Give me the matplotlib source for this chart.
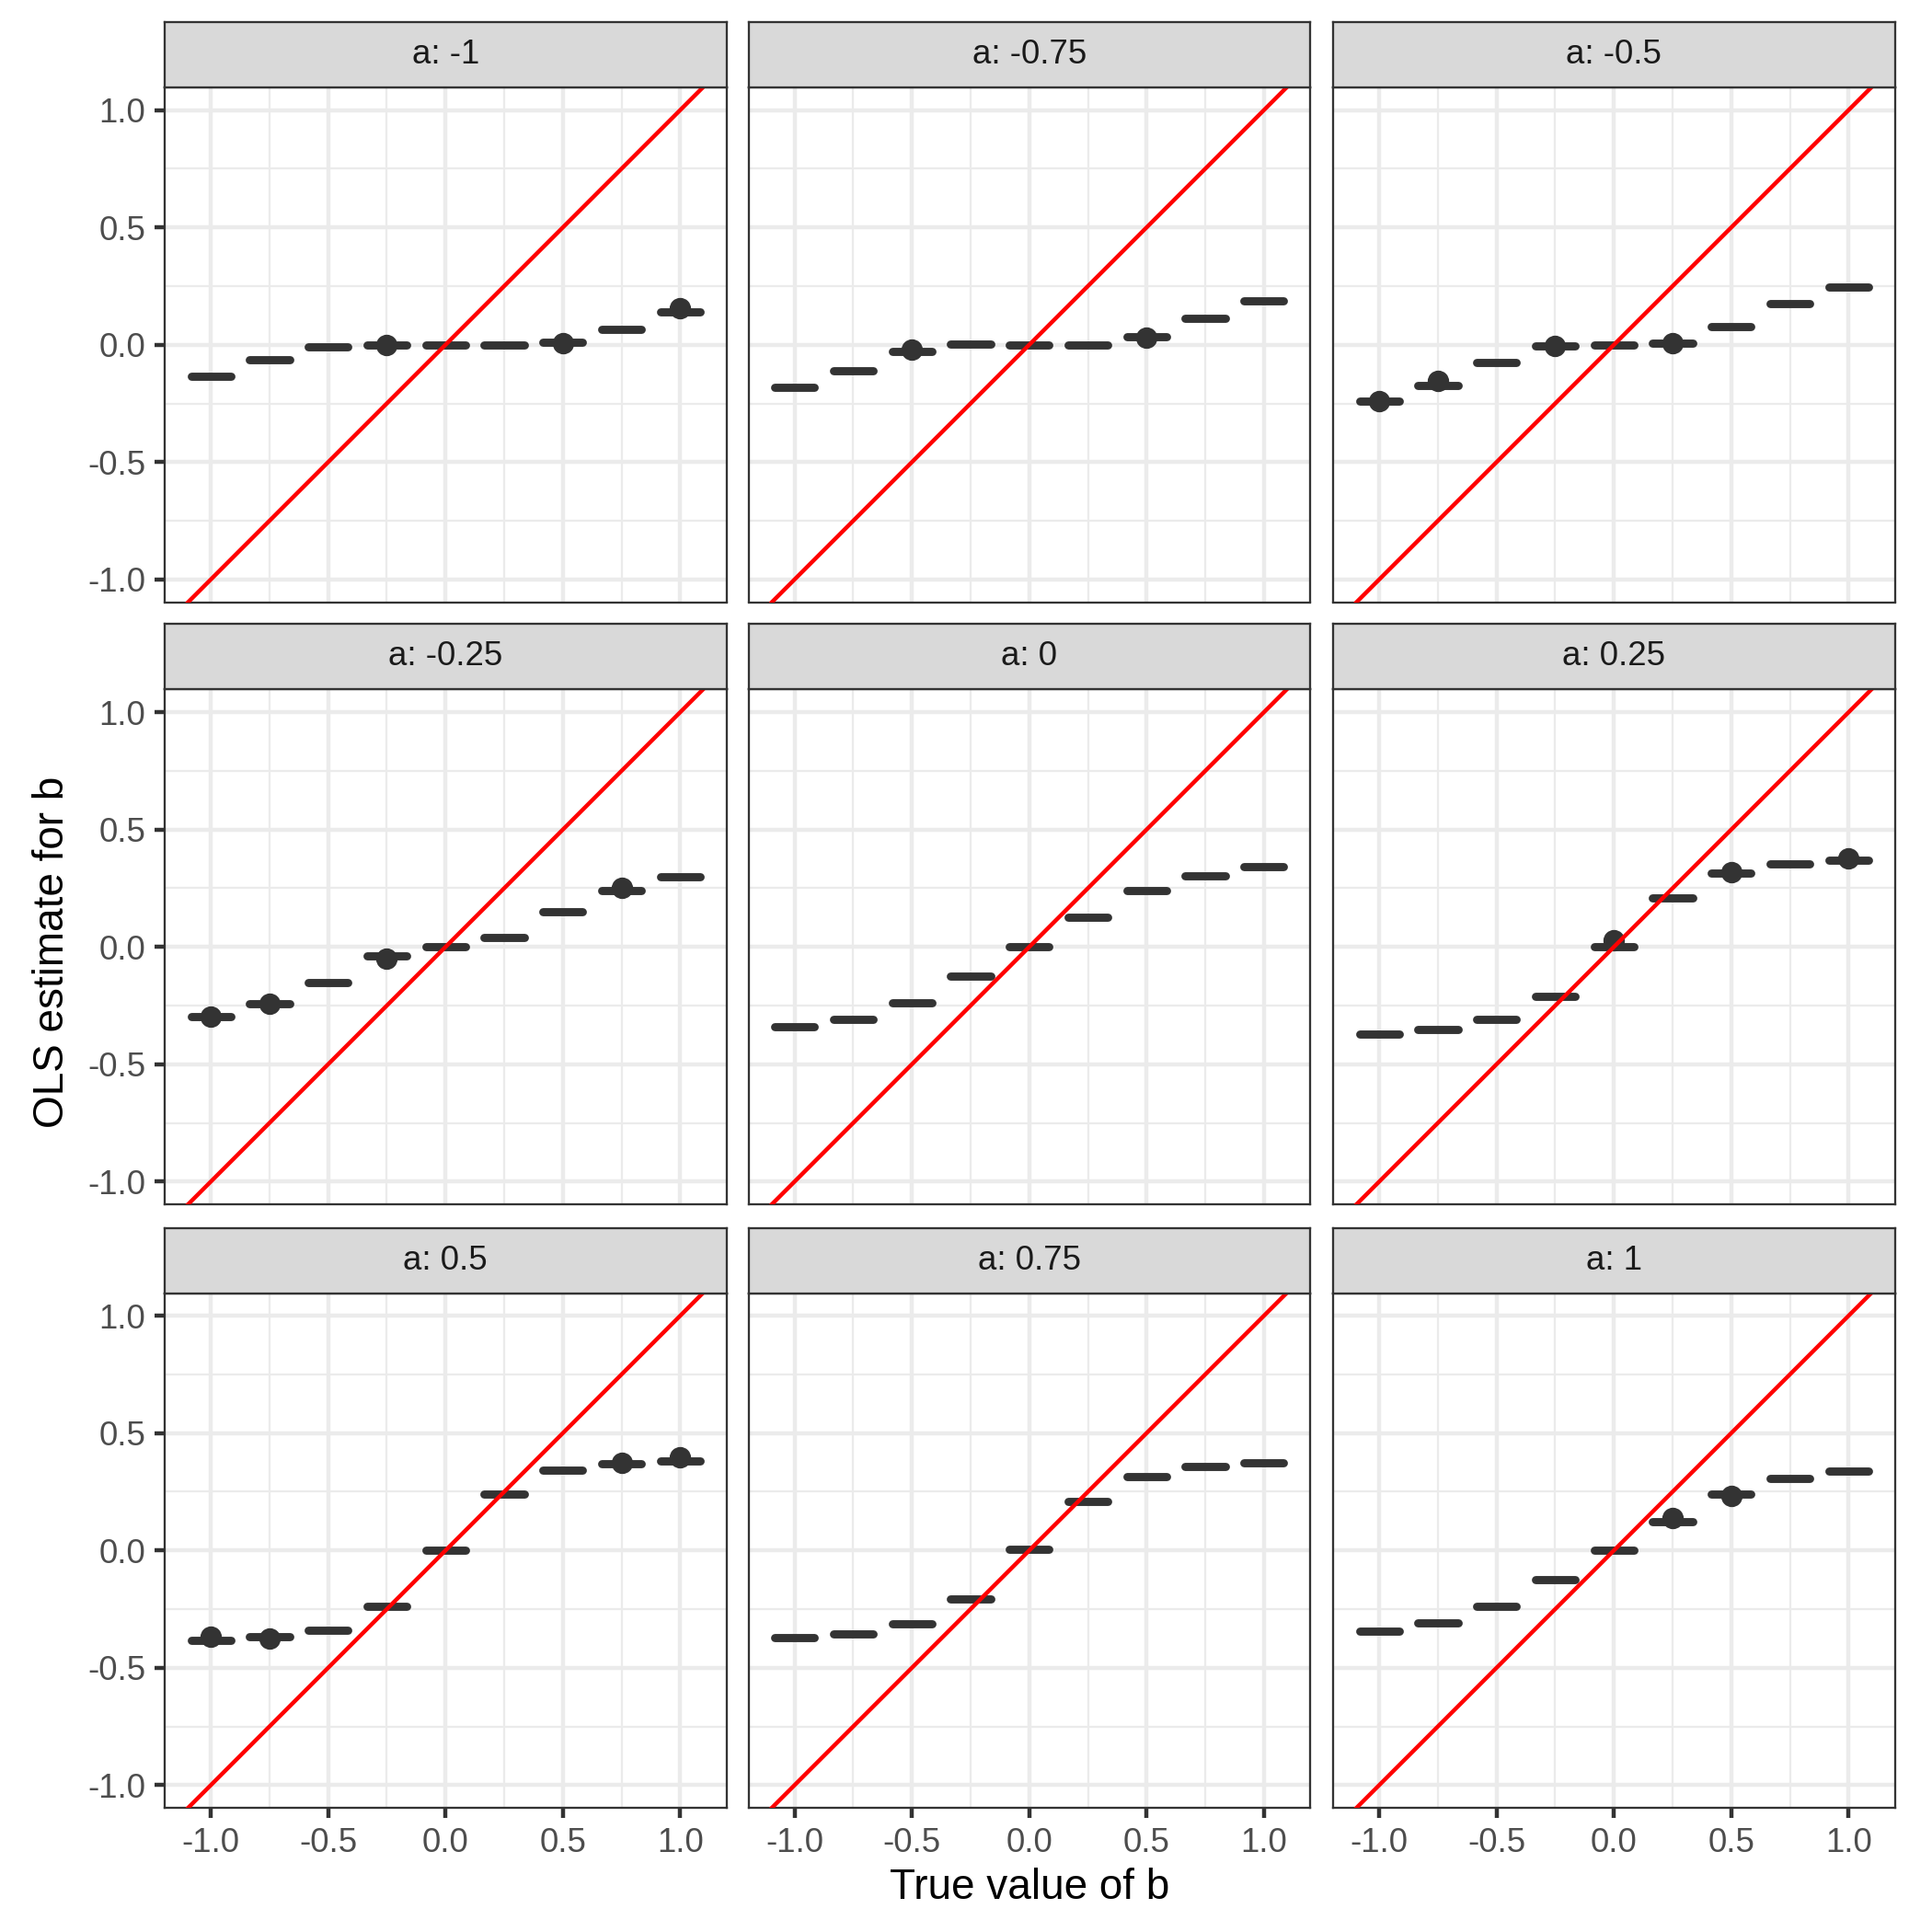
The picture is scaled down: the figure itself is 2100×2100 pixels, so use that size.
import numpy as np
import matplotlib.pyplot as plt

plt.rcParams['font.family'] = ['Liberation Sans', 'DejaVu Sans']

# true value of b (x positions of the boxes)
b_values = [-1.0, -0.75, -0.5, -0.25, 0.0, 0.25, 0.5, 0.75, 1.0]
facet_labels = ["a: -1", "a: -0.75", "a: -0.5", "a: -0.25", "a: 0",
                "a: 0.25", "a: 0.5", "a: 0.75", "a: 1"]

# median OLS estimate of b for each b, one list per facet
est_a_m1 = [-0.136, -0.064, -0.007, 0.000, 0.000, 0.000, 0.010, 0.064, 0.139]
est_a_m075 = [-0.181, -0.110, -0.029, 0.003, 0.000, 0.000, 0.035, 0.113, 0.186]
est_a_m05 = [-0.240, -0.173, -0.076, -0.004, 0.000, 0.007, 0.079, 0.176, 0.247]
est_a_m025 = [-0.296, -0.243, -0.150, -0.040, 0.000, 0.040, 0.151, 0.241, 0.299]
est_a_0 = [-0.339, -0.307, -0.237, -0.126, 0.000, 0.127, 0.241, 0.304, 0.343]
est_a_025 = [-0.371, -0.351, -0.310, -0.211, 0.000, 0.210, 0.313, 0.354, 0.371]
est_a_05 = [-0.383, -0.369, -0.339, -0.240, 0.000, 0.240, 0.343, 0.370, 0.383]
est_a_075 = [-0.371, -0.354, -0.314, -0.207, 0.004, 0.210, 0.314, 0.356, 0.374]
est_a_1 = [-0.343, -0.309, -0.239, -0.126, 0.000, 0.121, 0.239, 0.307, 0.340]

# outlier points (b, estimate) per facet
out_a_m1 = [(-0.25, 0.000), (0.5, 0.007), (1.0, 0.157)]
out_a_m075 = [(-0.5, -0.021), (0.5, 0.029)]
out_a_m05 = [(-1.0, -0.240), (-0.75, -0.153), (-0.25, -0.003), (0.25, 0.007)]
out_a_m025 = [(-1.0, -0.296), (-0.75, -0.243), (-0.25, -0.049), (0.75, 0.250)]
out_a_0 = []
out_a_025 = [(0.0, 0.027), (0.5, 0.319), (1.0, 0.377)]
out_a_05 = [(-1.0, -0.369), (-0.75, -0.376), (0.75, 0.373), (1.0, 0.397)]
out_a_075 = []
out_a_1 = [(0.25, 0.137), (0.5, 0.234)]

estimates = [est_a_m1, est_a_m075, est_a_m05, est_a_m025, est_a_0,
             est_a_025, est_a_05, est_a_075, est_a_1]
outliers = [out_a_m1, out_a_m075, out_a_m05, out_a_m025, out_a_0,
            out_a_025, out_a_05, out_a_075, out_a_1]

major = [-1.0, -0.5, 0.0, 0.5, 1.0]
major_labels = ["-1.0", "-0.5", "0.0", "0.5", "1.0"]
minor = [-0.75, -0.25, 0.25, 0.75]

dark = '#333333'
fig = plt.figure(figsize=(7, 7), dpi=300)

# panel grid in pixels of the 2100 px figure
col_left = [179 / 2100, 813.5 / 2100, 1449 / 2100]
col_w = 610.5 / 2100
row_bottom = [1 - 654.5 / 2100, 1 - 1309 / 2100, 1 - 1965 / 2100]
row_h = 559.5 / 2100
strip_h = 71 / 2100

for i in range(9):
    r, c = divmod(i, 3)
    ax = fig.add_axes([col_left[c], row_bottom[r], col_w, row_h])

    stats = []
    for b, m in zip(b_values, estimates[i]):
        fl = [y for (x, y) in outliers[i] if x == b]
        stats.append(dict(med=m, q1=m, q3=m, whislo=m, whishi=m, fliers=fl))

    ax.bxp(stats, positions=b_values, widths=0.17, manage_ticks=False,
           showcaps=False,
           boxprops=dict(color=dark, linewidth=1.07, solid_capstyle='round'),
           medianprops=dict(color=dark, linewidth=2.13, solid_capstyle='round'),
           whiskerprops=dict(color=dark, linewidth=1.07),
           flierprops=dict(marker='o', markerfacecolor=dark, markeredgecolor=dark,
                           markersize=4.6, linestyle='none'))

    ax.axline((0, 0), slope=1, color='red', linewidth=1.07, zorder=5)

    ax.set_xlim(-1.197, 1.197)
    ax.set_ylim(-1.097, 1.097)
    ax.set_xticks(major)
    ax.set_yticks(major)
    ax.set_xticks(minor, minor=True)
    ax.set_yticks(minor, minor=True)
    ax.set_axisbelow(True)
    ax.grid(which='major', color='#EBEBEB', linewidth=1.07)
    ax.grid(which='minor', color='#EBEBEB', linewidth=0.53)
    ax.tick_params(which='minor', length=0)
    ax.tick_params(which='major', length=2.75, width=1.07, color=dark,
                   labelcolor='#4D4D4D', labelsize=8.8, pad=2.2)

    if c == 0:
        ax.set_yticklabels(major_labels)
    else:
        ax.tick_params(axis='y', length=0, labelleft=False)
    if r == 2:
        ax.set_xticklabels(major_labels)
    else:
        ax.tick_params(axis='x', length=0, labelbottom=False)

    for s in ax.spines.values():
        s.set_color(dark)
        s.set_linewidth(0.55)

    # facet strip
    st = fig.add_axes([col_left[c], row_bottom[r] + row_h, col_w, strip_h])
    st.set_facecolor('#D9D9D9')
    st.set_xticks([])
    st.set_yticks([])
    for s in st.spines.values():
        s.set_color(dark)
        s.set_linewidth(0.55)
    st.text(0.5, 0.5, facet_labels[i], ha='center', va='center',
            fontsize=8.8, color='#1A1A1A', transform=st.transAxes)

fig.text(0.533, 0.0228, "True value of b", ha='center', va='center',
         fontsize=11, color='black')
fig.text(0.027, 0.507, "OLS estimate for b", ha='center', va='center',
         rotation=90, fontsize=11, color='black')

fig.savefig("out.png", dpi=300, facecolor='white')
